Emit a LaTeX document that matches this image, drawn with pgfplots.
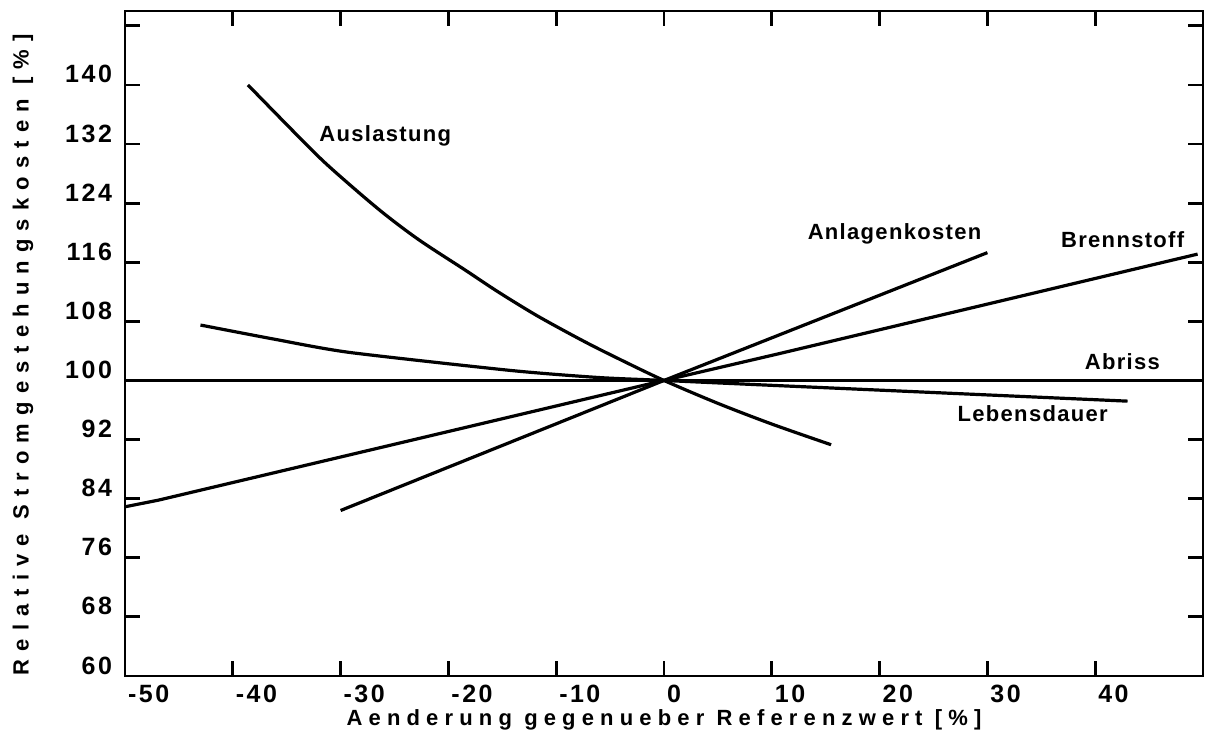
\documentclass[border=0pt]{standalone}
\usepackage{fontspec}
\usepackage{pgfplots}
\pgfplotsset{compat=1.18}
\setmainfont{Liberation Sans}
\newfontfamily\lblfont[LetterSpace=6]{Liberation Sans}
\newfontfamily\tickfont[LetterSpace=10]{Liberation Sans}
\newfontfamily\axfont[LetterSpace=28]{Liberation Sans}
\newfontfamily\ayfont[LetterSpace=37]{Liberation Sans}
\begin{document}
\begin{tikzpicture}
\useasboundingbox (-62.5pt,-32pt) rectangle (541pt,338pt);
\begin{axis}[
  at={(0,0)}, anchor=south west,
  scale only axis, width=539pt, height=332.5pt,
  xmin=-50, xmax=50, ymin=60, ymax=150,
  axis line style={line width=1.4pt},
  tick align=inside,
  major tick length=7.5pt,
  every tick/.style={line width=1.4pt, black},
  xtick={-50,-40,...,40},
  xticklabels={-50,-40,-30,-20,-10,0,10,20,30,40},
  ytick={60,68,...,140},
  yticklabels={60,68,76,84,92,100,108,116,124,132,140},
  extra y ticks={148}, extra y tick labels={},
  xticklabel style={font=\tickfont\bfseries\fontsize{12.5}{14}\selectfont, anchor=north west, xshift=-2pt, yshift=-1pt},
  yticklabel style={font=\tickfont\bfseries\fontsize{12.5}{14}\selectfont, anchor=base east, xshift=-3pt, yshift=1pt},
  xlabel={Aenderung gegenueber Referenzwert [\%]},
  ylabel={Relative Stromgestehungskosten [\%]},
  xlabel style={font=\axfont\bfseries\fontsize{11}{13}\selectfont, at={(axis description cs:0.5,-0.066)}, anchor=center},
  ylabel style={font=\ayfont\bfseries\fontsize{11}{13}\selectfont, at={(axis description cs:-0.0946,0.483)}, anchor=center},
  clip=false,
]
% Auslastung
\addplot[black, line width=1.6pt, smooth, tension=0.5] coordinates {
(-38.6,140.0) (-33.9,133.0) (-31.1,129.0) (-26.5,123.2) (-22.8,119.1) (-18.4,114.9) (-15.4,112.0) (-11.7,108.7) (-7.3,105.2) (-3.6,102.5) (0,100) (5,96.9) (10,94.1) (15.5,91.3)};
% Lebensdauer
\addplot[black, line width=1.6pt, smooth, tension=0.4] coordinates {
(-43.0,107.5) (-36.2,105.6) (-29.2,103.8) (-14.2,101.35) (-6.1,100.4) (0,100) (10.6,99.3) (43,97.2)};
% Abriss
\addplot[black, line width=1.6pt] coordinates {(-50,100) (50,100)};
% Brennstoff
\addplot[black, line width=1.6pt] coordinates {(-50,82.9) (-46.9,83.8) (0,100) (10.6,103.6) (49.5,117.1)};
% Anlagenkosten
\addplot[black, line width=1.6pt] coordinates {(-30.0,82.4) (0,100) (30.0,117.3)};
\node[font=\lblfont\bfseries\fontsize{11}{13}\selectfont, anchor=base west, inner sep=0pt] at (axis cs:-32,132.3) {Auslastung};
\node[font=\lblfont\bfseries\fontsize{11}{13}\selectfont, anchor=base west, inner sep=0pt] at (axis cs:13.3,119.05) {Anlagenkosten};
\node[font=\lblfont\bfseries\fontsize{11}{13}\selectfont, anchor=base west, inner sep=0pt] at (axis cs:36.8,118.0) {Brennstoff};
\node[font=\lblfont\bfseries\fontsize{11}{13}\selectfont, anchor=base west, inner sep=0pt] at (axis cs:39.0,101.5) {Abriss};
\node[font=\lblfont\bfseries\fontsize{11}{13}\selectfont, anchor=base west, inner sep=0pt] at (axis cs:27.2,94.5) {Lebensdauer};
\end{axis}
\end{tikzpicture}
\end{document}
